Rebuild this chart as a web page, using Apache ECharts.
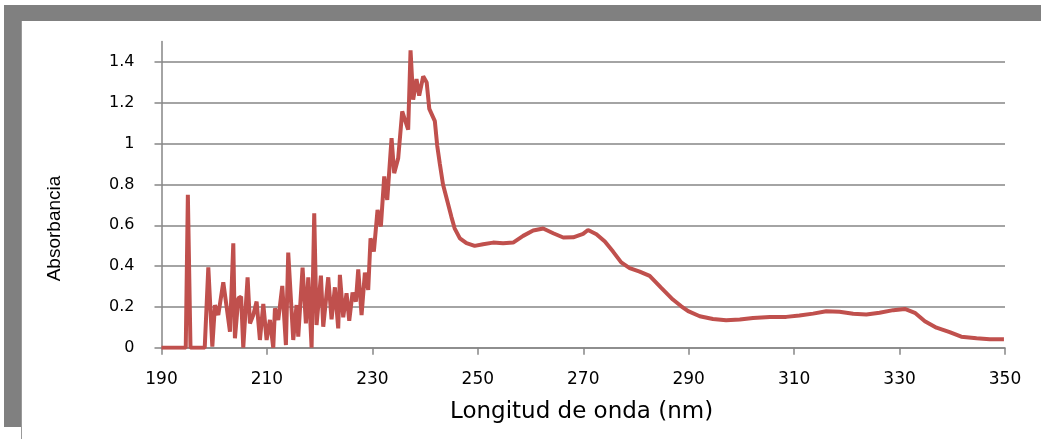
<!DOCTYPE html>
<html>
<head>
<meta charset="utf-8">
<script src="https://cdn.jsdelivr.net/npm/echarts@6/dist/echarts.min.js"></script>
<style>
html,body{margin:0;padding:0;width:1044px;height:439px;overflow:hidden;background:#fff;}
#frame{position:absolute;left:4px;top:5px;width:1037px;height:422px;background:#808080;}
#sheet{position:absolute;left:21px;top:21px;width:1040px;height:440px;background:#fff;border-left:1px solid #9a9a9a;}
#chart{position:absolute;left:0;top:0;width:1044px;height:439px;}
</style>
</head>
<body>
<div id="frame"></div>
<div id="sheet"></div>
<div id="chart"></div>
<script>
// Wavelength (nm)
const wavelength = [
  190, 194.6, 195.0, 195.5, 198.2, 198.88, 199.64, 200.14, 200.77, 201.72,
  202.35, 202.99, 203.62, 203.93, 204.57, 205.1, 205.51, 206.33, 206.78, 207.41,
  208.04, 208.67, 209.31, 209.94, 210.57, 211.20, 211.52, 212.15, 212.91, 213.60,
  214.04, 214.99, 215.62, 215.94, 216.76, 217.39, 217.84, 218.47, 218.97, 219.41,
  220.24, 220.68, 221.63, 222.26, 222.89, 223.52, 223.84, 224.47, 225.10, 225.61,
  226.24, 226.87, 227.32, 227.95, 228.58, 229.21, 229.65, 230.28, 230.98, 231.61,
  232.25, 232.82, 233.64, 234.14, 234.90, 235.66, 236.79, 237.24, 237.74, 238.37,
  238.88, 239.64, 240.3, 240.8, 241.85, 242.3, 242.8, 243.4, 244.2, 245.0,
  245.6, 246.6, 247.85, 249.4, 251.0, 252.9, 254.8, 256.7, 258.6, 260.5,
  262.4, 264.3, 266.2, 268.1, 269.97, 270.9, 272.5, 274.1, 275.65, 277.2,
  278.8, 280.7, 282.6, 284.8, 287.0, 288.6, 289.9, 292.1, 294.6, 297.1,
  299.7, 302.2, 305.4, 308.5, 311.0, 313.6, 316.1, 318.6, 321.2, 323.7,
  326.2, 328.8, 331.0, 332.9, 334.8, 337.0, 339.5, 341.7, 344.6, 347.1,
  349.8
];
// Absorbance
const absorbance = [
  0, 0, 0.749, 0, 0, 0.394, 0.005, 0.209, 0.160, 0.321,
  0.201, 0.078, 0.512, 0.046, 0.242, 0.250, 0, 0.345, 0.119, 0.160,
  0.226, 0.038, 0.214, 0.038, 0.136, 0, 0.193, 0.136, 0.303, 0.013,
  0.466, 0.038, 0.209, 0.054, 0.392, 0.119, 0.345, 0, 0.659, 0.111,
  0.353, 0.103, 0.345, 0.139, 0.296, 0.095, 0.357, 0.149, 0.267, 0.132,
  0.270, 0.226, 0.384, 0.160, 0.368, 0.283, 0.536, 0.471, 0.675, 0.594,
  0.839, 0.724, 1.027, 0.855, 0.929, 1.158, 1.068, 1.457, 1.215, 1.316,
  1.235, 1.330, 1.30, 1.17, 1.11, 0.99, 0.90, 0.80, 0.72, 0.64,
  0.585, 0.536, 0.512, 0.499, 0.507, 0.515, 0.512, 0.515, 0.548, 0.574,
  0.584, 0.561, 0.540, 0.541, 0.558, 0.577, 0.556, 0.520, 0.471, 0.418,
  0.390, 0.373, 0.352, 0.293, 0.236, 0.203, 0.179, 0.154, 0.141, 0.135,
  0.138, 0.146, 0.150, 0.151, 0.158, 0.167, 0.179, 0.176, 0.166, 0.163,
  0.171, 0.184, 0.190, 0.171, 0.130, 0.098, 0.076, 0.054, 0.046, 0.041,
  0.041
];
const xTicks = [190, 210, 230, 250, 270, 290, 310, 330, 350];
const yTicks = [0, 0.2, 0.4, 0.6, 0.8, 1.0, 1.2, 1.4];
const xTitle = 'Longitud de onda (nm)';
const yTitle = 'Absorbancia';

const seriesData = wavelength.map((w, i) => [w, absorbance[i]]);
const gray = '#868686';

const chart = echarts.init(document.getElementById('chart'), null, {renderer: 'canvas'});
chart.setOption({
  backgroundColor: 'transparent',
  animation: false,
  grid: {left: 161.5, right: 39, top: 41.6, bottom: 91.3, containLabel: false},
  xAxis: {
    type: 'value', min: xTicks[0], max: xTicks[xTicks.length - 1], interval: 20,
    axisLine: {show: true, onZero: false, lineStyle: {color: gray, width: 1.5}},
    axisTick: {show: true, inside: false, length: 7, lineStyle: {color: gray, width: 1.5}},
    axisLabel: {color: '#000', fontFamily: 'DejaVu Sans', fontSize: 17, margin: 23},
    splitLine: {show: false}
  },
  yAxis: {
    type: 'value', min: 0, max: 1.5, interval: 0.2,
    axisLine: {show: true, lineStyle: {color: gray, width: 1.5}},
    axisTick: {show: true, inside: false, length: 7, customValues: yTicks, lineStyle: {color: gray, width: 1.5}},
    axisLabel: {color: '#000', fontFamily: 'DejaVu Sans', fontSize: 16, margin: 27, customValues: yTicks},
    splitLine: {show: true, lineStyle: {color: gray, width: 1.5}}
  },
  graphic: [
    {type: 'text', left: 450, top: 401,
      style: {text: xTitle, fill: '#000', font: '23px "DejaVu Sans"'}},
    {type: 'text', x: 54.5, y: 228.5, rotation: Math.PI / 2,
      style: {text: yTitle, fill: '#000', font: '19px "Liberation Sans"',
        textAlign: 'center', textVerticalAlign: 'middle'}}
  ],
  series: [{
    type: 'line', data: seriesData, showSymbol: false, symbol: 'none', smooth: false,
    lineStyle: {color: '#C0504D', width: 4}, itemStyle: {color: '#C0504D'}
  }]
});
</script>
</body>
</html>
